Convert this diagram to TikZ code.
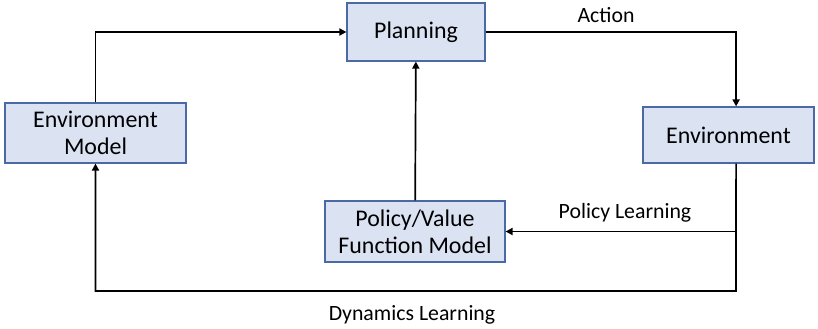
\documentclass[tikz,border=0pt]{standalone}
\usepackage{fontspec}
\setmainfont{Carlito}
\usetikzlibrary{arrows.meta}
\definecolor{boxfill}{RGB}{219,227,243}
\definecolor{boxline}{RGB}{75,105,165}
\tikzset{
  blk/.style={draw=boxline, fill=boxfill, line width=0.8pt, align=center,
    font=\fontsize{17}{19}\selectfont, inner sep=0pt},
  arr/.style={-{Triangle[length=5pt,width=5pt]}, line width=1.2pt},
  lbl/.style={font=\fontsize{15.5}{17}\selectfont}
}
\begin{document}
\begin{tikzpicture}[x=0.025cm,y=-0.025cm]
      \useasboundingbox (0,0) rectangle (818,329);
      % boxes
      \node[blk, minimum width=3.45cm, minimum height=1.45cm] (plan) at (416,32) {Planning};
      \node[blk, minimum width=4.525cm, minimum height=1.5cm] (envm) at (95.5,133) {Environment\\Model};
      \node[blk, minimum width=4.275cm, minimum height=1.4cm] (env) at (728.5,135) {Environment};
      \node[blk, minimum width=4.5cm, minimum height=1.525cm] (pol) at (415,231.5) {Policy/Value\\Function Model};
      % connectors
      \coordinate (dyn) at (736,291);
      \coordinate (pl) at (pol.east -| dyn);
      \draw[arr] (envm) |- (plan);
      \draw[arr] (plan) -| ([xshift=0.19cm]env.north);
      \draw[arr] (pol) -- (plan);
      \draw[arr] ([xshift=0.19cm]env.south) -- (dyn) -| (envm);
      \draw[arr] (pl) -- (pol);
      % labels
      \node[lbl] (acttext) at (606,15) {Action};
      \node[lbl] (pltext) at (625,213) {Policy Learning};
      \node[lbl] (dyntext) at (412,315) {Dynamics Learning};
\end{tikzpicture}
\end{document}
